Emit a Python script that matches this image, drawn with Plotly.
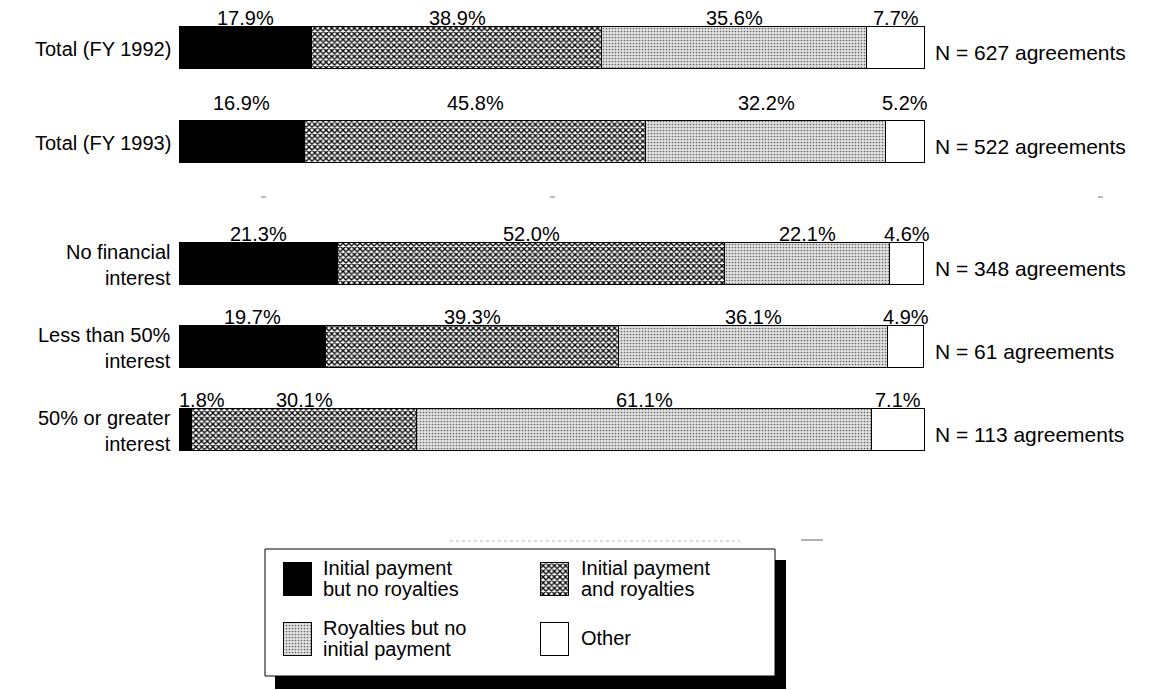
import plotly.graph_objects as go

# --- data -------------------------------------------------------------
ROWS = ["Total (FY 1992)", "Total (FY 1993)", "No financial<br>interest",
        "Less than 50%<br>interest", "50% or greater<br>interest"]
N_AGREEMENTS = [627, 522, 348, 61, 113]

SERIES = ["Initial payment but no royalties", "Initial payment and royalties",
          "Royalties but no initial payment", "Other"]
INITIAL_ONLY = [17.9, 16.9, 21.3, 19.7, 1.8]
INITIAL_AND_ROYALTIES = [38.9, 45.8, 52.0, 39.3, 30.1]
ROYALTIES_ONLY = [35.6, 32.2, 22.1, 36.1, 61.1]
OTHER = [7.7, 5.2, 4.6, 4.9, 7.1]
VALUES = [INITIAL_ONLY, INITIAL_AND_ROYALTIES, ROYALTIES_ONLY, OTHER]

LEGEND_TEXT = [["Initial payment", "but no royalties"],
               ["Initial payment", "and royalties"],
               ["Royalties but no", "initial payment"],
               ["Other"]]

# --- layout constants (pixels) ------------------------------------------
W, H = 1166, 690
BAR_LEFT, BAR_RIGHT = 179, 924          # pixel span of 0..100 %
X_MAX = 100.4                           # a little headroom so the bar outline is not clipped
PLOT_RIGHT = BAR_LEFT + (BAR_RIGHT - BAR_LEFT) * X_MAX / 100
ROW_Y = [48, 142, 264, 347, 430]        # bar centres
BAR_H = 42
LABEL_GAP = [9, 18, 9, 9, 9]            # space between bar top and % label
FONT = "Liberation Sans, Arial, Helvetica, sans-serif"
FS = 20

STYLES = [
    dict(color="black", pattern=dict(shape="")),
    dict(color="white", pattern=dict(shape="x", fgcolor="black", bgcolor="white",
                                     size=4, solidity=0.55, fillmode="replace")),
    dict(color="#e2e2e2", pattern=dict(shape=".", fgcolor="#666666", bgcolor="#e2e2e2",
                                       size=3, solidity=0.25, fillmode="replace")),
    dict(color="white", pattern=dict(shape="")),
]

fig = go.Figure()

for name, vals, st in zip(SERIES, VALUES, STYLES):
    fig.add_trace(go.Bar(
        orientation="h", y=ROW_Y, x=vals, width=BAR_H, name=name,
        marker=dict(color=st["color"], pattern=st["pattern"],
                    line=dict(color="black", width=1)),
        showlegend=False, hoverinfo="skip", xaxis="x", yaxis="y",
    ))

annotations = []

# percentage labels above each segment
for i, y in enumerate(ROW_Y):
    start = 0.0
    for j, vals in enumerate(VALUES):
        v = vals[i]
        ly = y - BAR_H / 2 - LABEL_GAP[i]
        if j == 0 and v < 3:
            annotations.append(dict(x=0, y=ly, xref="x", yref="y", text=f"{v:.1f}%",
                                    showarrow=False, xanchor="left", yanchor="middle",
                                    xshift=-2, font=dict(family=FONT, size=FS, color="black")))
        else:
            annotations.append(dict(x=start + v / 2, y=ly, xref="x", yref="y",
                                    text=f"{v:.1f}%", showarrow=False,
                                    xanchor="center", yanchor="middle",
                                    font=dict(family=FONT, size=FS, color="black")))
        start += v

# row titles and sample sizes
for i, y in enumerate(ROW_Y):
    annotations.append(dict(x=BAR_LEFT - 6, y=y + 1, xref="x2", yref="y", text=ROWS[i],
                            showarrow=False, xanchor="right", yanchor="middle", align="right",
                            font=dict(family=FONT, size=FS, color="black")))
    annotations.append(dict(x=BAR_RIGHT + 9, y=y + 4, xref="x2", yref="y",
                            text=f"N = {N_AGREEMENTS[i]} agreements",
                            showarrow=False, xanchor="left", yanchor="middle",
                            font=dict(family=FONT, size=FS + 1, color="black")))

# --- legend box with drop shadow -----------------------------------------
BOX = dict(x0=265, x1=775, y0=549, y1=676)
shapes = [
    dict(type="rect", xref="x2", yref="y", x0=BOX["x0"] + 10, x1=BOX["x1"] + 11,
         y0=BOX["y0"] + 11, y1=BOX["y1"] + 13, fillcolor="black", line=dict(width=0), layer="below"),
    dict(type="rect", xref="x2", yref="y", **BOX, fillcolor="white",
         line=dict(color="black", width=1), layer="below"),
]

# faint scanner specks
for x0 in (261, 550, 1098):
    shapes.append(dict(type="line", xref="x2", yref="y", x0=x0, x1=x0 + 5, y0=197, y1=197,
                       line=dict(color="#777", width=1)))
shapes.append(dict(type="line", xref="x2", yref="y", x0=450, x1=740, y0=541, y1=541,
                   line=dict(color="#bbb", width=1, dash="dot")))
shapes.append(dict(type="line", xref="x2", yref="y", x0=801, x1=823, y0=540, y1=540,
                   line=dict(color="#666", width=1)))

SW_X = [284, 541, 284, 541]
SW_Y = [579, 579, 639, 639]
SW_W, SW_H = 28, 33
TXT_X = [321, 579, 321, 579]
for k, st in enumerate(STYLES):
    fig.add_trace(go.Bar(
        orientation="h", y=[SW_Y[k]], x=[SW_W], base=[SW_X[k]], width=SW_H,
        marker=dict(color=st["color"], pattern=st["pattern"],
                    line=dict(color="black", width=1)),
        showlegend=False, hoverinfo="skip", xaxis="x2", yaxis="y",
    ))
    lines = LEGEND_TEXT[k]
    offs = [0] if len(lines) == 1 else [-10.5, 10.5]
    for line, off in zip(lines, offs):
        annotations.append(dict(x=TXT_X[k], y=SW_Y[k] + off - 1, xref="x2", yref="y", text=line,
                                showarrow=False, xanchor="left", yanchor="middle",
                                font=dict(family=FONT, size=FS, color="black")))

fig.update_layout(
    width=W, height=H, margin=dict(l=0, r=0, t=0, b=0),
    paper_bgcolor="white", plot_bgcolor="rgba(0,0,0,0)",
    barmode="stack", bargap=0,
    xaxis=dict(domain=[BAR_LEFT / W, PLOT_RIGHT / W], range=[0, X_MAX], visible=False,
               fixedrange=True, anchor="y"),
    xaxis2=dict(domain=[0, 1], range=[0, W], visible=False, anchor="y", fixedrange=True),
    yaxis=dict(domain=[0, 1], range=[H, 0], visible=False, fixedrange=True),
    shapes=shapes, annotations=annotations,
)

fig.write_html("out.html")
